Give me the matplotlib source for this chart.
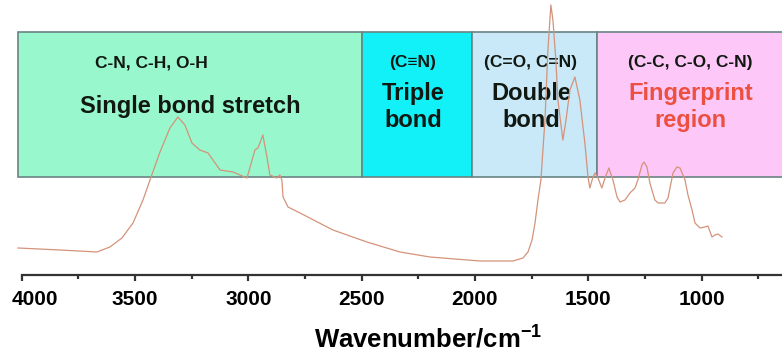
import matplotlib
matplotlib.use('Agg')
import matplotlib.pyplot as plt
from matplotlib.patches import Rectangle
from matplotlib.ticker import MultipleLocator
from matplotlib.transforms import ScaledTranslation

plt.rcParams['font.family'] = ['Liberation Sans', 'DejaVu Sans']
plt.rcParams['font.weight'] = 'bold'
plt.rcParams['mathtext.fontset'] = 'custom'
plt.rcParams['mathtext.rm'] = 'Liberation Sans:bold'
plt.rcParams['mathtext.bf'] = 'Liberation Sans:bold'
plt.rcParams['mathtext.default'] = 'bf'

# IR spectrum (wavenumber in cm-1, absorbance in arbitrary units)
wavenumber = [4017, 3831, 3668, 3611, 3558, 3509, 3465, 3434, 3390, 3346,
              3311, 3280, 3249, 3214, 3178, 3125, 3068, 3006, 2971, 2958,
              2949, 2936, 2918, 2905, 2874, 2861, 2852, 2847, 2825, 2772,
              2627, 2477, 2331, 2199, 1978, 1832, 1788, 1766, 1748, 1735,
              1722, 1709, 1691, 1678, 1665, 1656, 1643, 1634, 1612, 1598,
              1581, 1559, 1537, 1515, 1501, 1493, 1479, 1470, 1457, 1440,
              1426, 1409, 1391, 1373, 1360, 1338, 1316, 1294, 1281, 1263,
              1254, 1241, 1228, 1206, 1192, 1162, 1148, 1126, 1109, 1095,
              1073, 1060, 1042, 1029, 1007, 985, 972, 954, 941, 928, 910]
absorbance = [0.27, 0.25, 0.23, 0.28, 0.37, 0.52, 0.75, 0.95, 1.23, 1.47,
              1.58, 1.50, 1.32, 1.25, 1.22, 1.05, 1.03, 0.97, 1.25, 1.27,
              1.32, 1.40, 1.18, 1.00, 0.97, 1.00, 0.95, 0.78, 0.68, 0.62,
              0.45, 0.33, 0.23, 0.18, 0.14, 0.14, 0.17, 0.23, 0.35, 0.52,
              0.75, 0.95, 1.55, 2.25, 2.70, 2.55, 2.15, 1.75, 1.35, 1.55,
              1.85, 1.98, 1.75, 1.32, 0.98, 0.87, 0.98, 1.02, 0.97, 0.87,
              0.97, 1.07, 0.95, 0.78, 0.73, 0.75, 0.82, 0.87, 0.95, 1.10,
              1.13, 1.08, 0.92, 0.75, 0.72, 0.72, 0.77, 1.02, 1.08, 1.07,
              0.95, 0.80, 0.65, 0.52, 0.47, 0.48, 0.49, 0.38, 0.40, 0.41, 0.38]

# spectral regions: (high, low) wavenumber edges
region_edges = [(4017, 2500), (2500, 2013), (2013, 1462), (1462, 600)]
region_colors = ['#98F7CD', '#12F0F8', '#C9E8F8', '#FDC8F8']
region_bonds = ['C-N, C-H, O-H', '(C\u2261N)', '(C=O, C=N)', '(C-C, C-O, C-N)']
region_names = [['Single bond stretch'], ['Triple', 'bond'], ['Double', 'bond'],
                ['Fingerprint', 'region']]

fig = plt.figure(figsize=(7.82, 3.54), dpi=100)
ax = fig.add_axes([0, 0.2232, 1, 0.7768])
ax.set_xlim(4096, 645)
ax.set_ylim(0, 2.75)

box_lo, box_hi = 0.98, 2.43
for (hi, lo), c in zip(region_edges, region_colors):
    ax.add_patch(Rectangle((lo, box_lo), hi - lo, box_hi - box_lo,
                           facecolor=c, edgecolor='#6A8484', lw=1.2, zorder=1))

ink = '#111811'
# bond labels
bond_x = [3430, 2274, 1757, 1051]
for x, t in zip(bond_x, region_bonds):
    ax.text(x, 2.12, t, ha='center', va='center', fontsize=12.5,
            color=ink, zorder=3)
# region names
ax.text(3258, 1.68, region_names[0][0], ha='center', va='center',
        fontsize=17, color=ink, zorder=3)
name_x = [2274, 1752, 1048]
name_c = [ink, ink, '#EC5040']
for x, lines, c in zip(name_x, region_names[1:], name_c):
    ax.text(x, 1.81, lines[0], ha='center', va='center', fontsize=17,
            color=c, zorder=3)
    ax.text(x, 1.54, lines[1], ha='center', va='center', fontsize=17,
            color=c, zorder=3)

ax.plot(wavenumber, absorbance, color='#D4937A', lw=0.9, zorder=4,
        clip_on=False)

for s in ['left', 'right', 'top']:
    ax.spines[s].set_visible(False)
ax.spines['bottom'].set_bounds(4000, 645)
ax.spines['bottom'].set_color('#333333')
ax.spines['bottom'].set_linewidth(1.6)
ax.set_yticks([])
ax.xaxis.set_major_locator(MultipleLocator(500))
ax.xaxis.set_minor_locator(MultipleLocator(250))
ax.set_xticks([4000, 3500, 3000, 2500, 2000, 1500, 1000])
ax.tick_params(axis='x', which='major', length=4, width=1.6, color='#333333',
               labelsize=15, pad=7)
ax.tick_params(axis='x', which='minor', length=3, width=1.6, color='#333333')
for lab in ax.get_xticklabels():
    lab.set_fontweight('bold')
first = ax.xaxis.get_major_ticks()[0].label1
first.set_transform(first.get_transform() +
                    ScaledTranslation(13 / 100, 0, fig.dpi_scale_trans))

ax.set_xlabel('Wavenumber/cm$^{-1}$', fontsize=18.5, fontweight='bold')
ax.xaxis.set_label_coords(0.547, -0.185)
ax.xaxis.label.set_va('top')

plt.savefig('out.png', dpi=100)
